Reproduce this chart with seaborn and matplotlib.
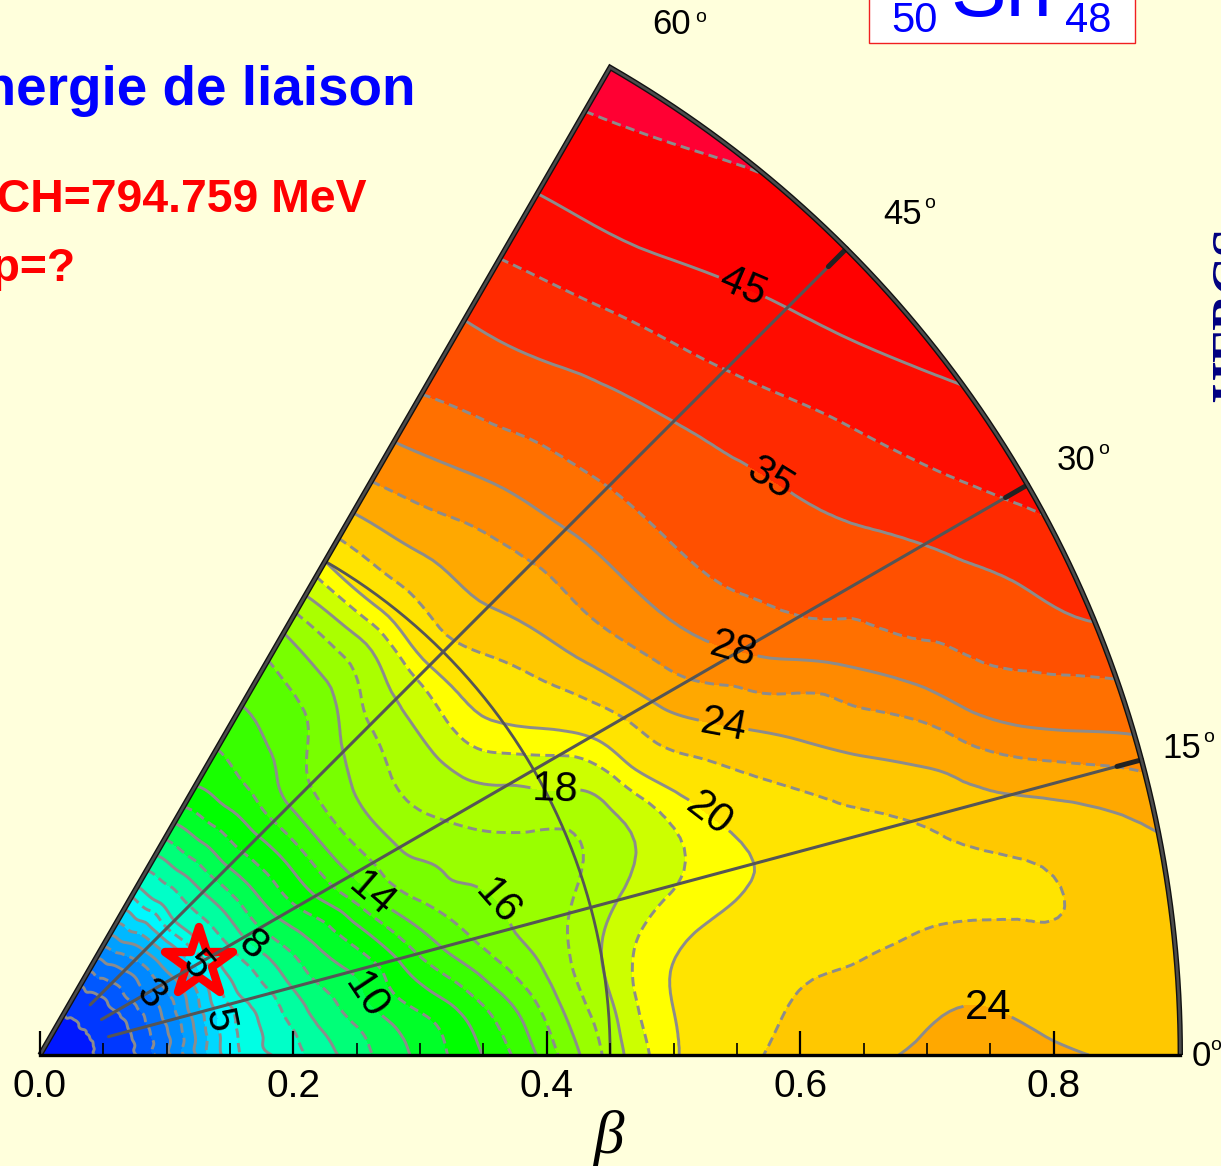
"""
Potential energy surface in the beta-gamma plane, drawn as a filled contour
sector with labelled contour lines.

Usage:
    python3 plot.py
"""

import numpy as np
import matplotlib
matplotlib.use("Agg")
import matplotlib.pyplot as plt
import matplotlib.tri as mtri
from matplotlib.markers import MarkerStyle
from matplotlib.patches import Rectangle
import seaborn as sns

# Nodes
BETA = [0, .03, .06, .09, .12, .15, .18, .21, .24, .27, .3, .33, .36, .39,
        .42, .45, .48, .51, .54, .57, .6, .65, .7, .75, .8, .85, .9]
GAMMA = [0, 5, 10, 15, 22.5, 26, 30, 37.5, 45, 52.5, 60]

# Energy (MeV) along beta, one list per gamma
E_G00 = [0, .65, 1.51, 2.47, 3.82, 5.25, 5.92, 7, 8.19, 9.27, 10.27, 11.29, 12.45, 13.9, 15.65, 17.37, 18.95, 20.18, 21.07, 21.97, 22.59, 23.61, 24.3, 24.6, 24.23, 23.89, 23.6]
E_G05 = [0, .65, 1.52, 2.5, 3.82, 5.28, 6.09, 7.4, 8.6, 9.67, 10.67, 11.71, 13.1, 14.6, 16.33, 17.78, 19.33, 20.2, 20.78, 21.37, 21.96, 22.4, 23.1, 23.3, 22.7, 22.7, 23.3]
E_G10 = [0, .65, 1.54, 2.54, 3.82, 5.29, 6.25, 7.83, 9.09, 10.4, 11.68, 12.88, 14.26, 15.5, 16.77, 18, 19.13, 19.88, 20.26, 20.58, 20.9, 21.15, 21.4, 21.6, 21.85, 22.6, 23.6]
E_G15 = [0, .65, 1.56, 2.57, 3.85, 5.33, 6.52, 8.24, 9.55, 10.72, 12.5, 14.08, 15.21, 16.09, 16.72, 17.45, 18.19, 18.81, 19.33, 19.8, 20.26, 21.02, 21.77, 22.88, 24.12, 25.29, 26.6]
E_G22 = [0, .67, 1.6, 2.59, 3.8, 5.4, 7, 8.79, 10.35, 12, 14, 15.29, 16.05, 16.33, 16.62, 16.9, 17.57, 18.6, 19.87, 21.15, 22.34, 24.03, 25.67, 27.6, 31.04, 33.04, 35.2]
E_G26 = [0, .68, 1.64, 2.66, 3.86, 5.44, 7.29, 9.17, 10.75, 12.57, 14.59, 15.7, 16.33, 16.83, 17.26, 17.64, 18.08, 19.41, 21.33, 22.89, 24.18, 26, 27.82, 31.15, 33.08, 34.8, 38]
E_G30 = [0, .7, 1.68, 2.71, 3.91, 5.5, 7.57, 9.59, 11.33, 13.21, 14.83, 16.1, 16.81, 17.38, 17.9, 18.49, 19.18, 20.47, 22.64, 24.79, 26.3, 28.8, 31.87, 33.29, 34.72, 37.94, 41.5]
E_G37 = [0, .71, 1.75, 2.76, 4.06, 5.79, 7.71, 9.82, 11.6, 13.5, 15.17, 16.31, 17.2, 17.95, 19.2, 20.36, 21.45, 23.11, 25, 26.6, 28.18, 31.91, 33.63, 35.68, 39.11, 43, 45.7]
E_G45 = [0, .71, 1.78, 2.83, 4.19, 6, 7.87, 10, 11.77, 13.55, 14.95, 15.78, 16.69, 17.77, 19, 21.16, 22.92, 24.4, 25.6, 27.03, 28.92, 32.33, 34.52, 38.66, 42.65, 46.05, 48.8]
E_G52 = [0, .75, 1.91, 3, 4.4, 5.85, 7.86, 9.93, 11.74, 13.09, 14, 14.7, 15.55, 16.76, 18.33, 20.61, 22.9, 24.68, 26.25, 27.75, 30.19, 33.2, 36.27, 41.02, 45.19, 48, 50.5]
E_G60 = [0, .79, 1.96, 3.1, 4.5, 5.79, 7.85, 9.92, 11.78, 12.76, 13.54, 14.27, 15, 16.26, 18.06, 20, 22.85, 25.15, 26.95, 28.77, 31.33, 33.8, 37.6, 42.21, 46.04, 49.29, 53]

LABEL_LEVELS = [3, 5, 8, 10, 14, 16, 18, 20, 24, 28, 35, 45]
PLAIN_LEVELS = [1, 2, 4, 6, 12]
DASHED_LEVELS = [2.5, 3.5, 4.5, 5.5, 7, 9, 11, 13, 15, 17, 19, 22, 26, 31.5, 40, 50]
FILL_LEVELS = sorted([0] + LABEL_LEVELS + PLAIN_LEVELS + DASHED_LEVELS + [60])
BAND_COLORS = [
    "#0018ff", "#0038ff", "#0058ff", "#0070ff", "#0088ff", "#00a0ff",
    "#00b8ff", "#00d8ff", "#00f8ff", "#00ffe4", "#00ffc8", "#00ffa0",
    "#00ff78", "#00ff50", "#00ff28", "#00ff00", "#18ff00", "#38ff00",
    "#58ff00", "#78ff00", "#99ff00", "#aaff00", "#ccff00", "#ffff00",
    "#ffe400", "#ffc800", "#ffa800", "#ff8a00", "#ff7000", "#ff5000",
    "#ff2a00", "#ff0c00", "#ff0000", "#ff0033",
]

# where the contour labels sit, in pixels of the reference
LABEL_PIXELS = [(155, 990), (218, 1020), (197, 965), (250, 948), (365, 997),
                (370, 897), (486, 910), (555, 785), (706, 820), (723, 728),
                (987, 1015), (733, 650), (770, 478), (740, 292)]
FLAT_LABEL = 10     # the 24 on the bottom patch stands upright

SPOKES = [15, 30, 45]
MINIMUM = (0.145, 30)

BG = "#ffffdc"
LINE_GREY = "#8c8c8c"
FRAME_GREY = "#555555"
BETA_MAX = 0.9
PX = 1267.0     # pixels per unit of beta
X0, Y0 = 40.0, 1055.0


def xp(px):
    return (px - X0) / PX


def yp(py):
    return (Y0 - py) / PX


def to_xy(beta, gamma):
    g = np.radians(gamma)
    return beta * np.cos(g), beta * np.sin(g)


def main():
    sns.set_theme(style="white")
    plt.rcParams["font.family"] = ["Liberation Sans", "DejaVu Sans"]

    fig = plt.figure(figsize=(12.21, 11.66), dpi=100, facecolor=BG)
    ax = fig.add_axes([0, 0, 1, 1], facecolor=BG)
    ax.set_xlim(xp(0), xp(1221))
    ax.set_ylim(yp(1166), yp(0))

    # Refine in the (beta, gamma) rectangle so the sector keeps its round edge
    energy = np.column_stack([E_G00, E_G05, E_G10, E_G15, E_G22, E_G26,
                              E_G30, E_G37, E_G45, E_G52, E_G60])
    bb, gg = np.meshgrid(BETA, GAMMA, indexing="ij")
    rect = mtri.Triangulation(bb.ravel(), gg.ravel() / 60.0)
    interp = mtri.CubicTriInterpolator(rect, energy.ravel(), kind="min_E")
    refined, e_fine = mtri.UniformTriRefiner(rect).refine_field(energy.ravel(), interp, subdiv=3)
    xf, yf = to_xy(refined.x, refined.y * 60.0)
    sector = mtri.Triangulation(xf, yf, refined.triangles)

    ax.tricontourf(sector, e_fine, levels=FILL_LEVELS, colors=sns.color_palette(BAND_COLORS), zorder=1)
    ax.tricontour(sector, e_fine, levels=PLAIN_LEVELS, colors=LINE_GREY,
                  linewidths=2.1, linestyles="-", zorder=2)
    ax.tricontour(sector, e_fine, levels=DASHED_LEVELS, colors=LINE_GREY,
                  linewidths=2.1, linestyles=[(0, (3.2, 1.8))], zorder=2)
    labelled = ax.tricontour(sector, e_fine, levels=LABEL_LEVELS, colors=LINE_GREY,
                             linewidths=2.1, linestyles="-", zorder=2)

    labels = ax.clabel(labelled, fmt="%d", fontsize=30, colors="black",
                       inline=True, inline_spacing=2,
                       manual=[(xp(px), yp(py)) for px, py in LABEL_PIXELS])
    for t in labels:
        t.set_zorder(7)
    labelled.labelTexts[FLAT_LABEL].set_rotation(0)

    # Minimum
    ax.plot(*to_xy(*MINIMUM), linestyle="none", zorder=4,
            marker=MarkerStyle("*", joinstyle="round"), markersize=52,
            markerfacecolor="none", markeredgecolor="#ff0000", markeredgewidth=6)

    # Frame of the sector
    arc_gamma = np.linspace(0, 60, 241)
    ax.plot(*to_xy(0.45, arc_gamma), color=FRAME_GREY, lw=2.0, zorder=5)
    for gamma in SPOKES:
        ax.plot(*to_xy(np.array([0.056, BETA_MAX]), gamma), color=FRAME_GREY, lw=2.2, zorder=5)
        ax.plot(*to_xy(np.array([0.88, BETA_MAX]), gamma), color="#222222", lw=3.6, zorder=5)
    edge_x, edge_y = to_xy(BETA_MAX, arc_gamma)
    frame_x = np.r_[0, edge_x[::-1]]
    frame_y = np.r_[0, edge_y[::-1]]
    ax.plot(frame_x, frame_y, color="#111111", lw=3.9, zorder=6,
            solid_joinstyle="miter", solid_capstyle="butt")
    ax.plot(frame_x, frame_y, color="#4c4c4c", lw=1.9, zorder=6,
            solid_joinstyle="miter", solid_capstyle="butt")

    # Beta axis along gamma = 0
    for side in ["top", "left", "right"]:
        ax.spines[side].set_visible(False)
    ax.spines["bottom"].set_position(("data", 0))
    ax.spines["bottom"].set_bounds(0, BETA_MAX)
    ax.spines["bottom"].set_linewidth(2.4)
    ax.spines["bottom"].set_color("black")
    ax.spines["bottom"].set_zorder(8)
    ax.xaxis.set_zorder(8)
    ax.set_yticks([])
    ax.set_xticks([0.0, 0.2, 0.4, 0.6, 0.8])
    ax.set_xticklabels(["0.0", "0.2", "0.4", "0.6", "0.8"], fontsize=28, color="black")
    ax.set_xticks([.05, .1, .15, .25, .3, .35, .45, .5, .55, .65, .7, .75], minor=True)
    ax.tick_params(axis="x", which="major", direction="in", length=17, width=1.6, color="black",
                   pad=10, bottom=True)
    ax.tick_params(axis="x", which="minor", direction="in", length=8.5, width=1.2, color="black",
                   bottom=True)

    ax.text(xp(609), yp(1153), "β", family=["Liberation Serif", "DejaVu Serif"], style="italic",
            fontsize=44, ha="center", va="baseline", color="black")

    # Gamma labels round the outer edge
    for txt, cx, cy, ox, oy in [("60", 672, 25, 701, 17), ("45", 903, 215, 930, 204),
                                ("30", 1076, 461, 1104, 450), ("15", 1182, 749, 1209, 738),
                                ("0", 1201, 1056, 1216, 1045)]:
        ax.text(xp(cx), yp(cy), txt, fontsize=25, ha="center", va="center", color="black")
        ax.text(xp(ox), yp(oy), "o", fontsize=14, ha="center", va="center", color="black")

    # Titles, cut by the left edge of the frame
    ax.text(xp(415), yp(105), "Energie de liaison", fontsize=39.5, fontweight="bold",
            color="#0000ff", ha="right", va="baseline")
    ax.text(xp(367), yp(212), "ECH=794.759 MeV", fontsize=33.4, fontweight="bold",
            color="#ff0000", ha="right", va="baseline")
    ax.text(xp(76), yp(281), "Exp=?", fontsize=33.4, fontweight="bold",
            color="#ff0000", ha="right", va="baseline")

    # Nucleus box, cut by the top edge
    ax.add_patch(Rectangle((xp(869), yp(43)), xp(1135) - xp(869), yp(-10) - yp(43),
                           facecolor="white", edgecolor="#f02020", lw=1.0, zorder=3))
    ax.text(xp(891), yp(32), "50", fontsize=30, color="#0000ff", ha="left", va="baseline", zorder=4)
    ax.text(xp(950), yp(16), "Sn", fontsize=60, color="#0000ff", ha="left", va="baseline", zorder=4)
    ax.text(xp(1065), yp(32), "48", fontsize=30, color="#0000ff", ha="left", va="baseline", zorder=4)

    # Rotated caption, almost all of it beyond the right edge
    ax.text(xp(1211), yp(314), "HFBCS", family=["Liberation Serif", "DejaVu Serif"], fontweight="bold",
            fontsize=38, color="#000080", rotation=90, ha="left", va="center")

    fig.savefig("out.png", dpi=100, facecolor=BG)
    plt.close(fig)


if __name__ == "__main__":
    main()
